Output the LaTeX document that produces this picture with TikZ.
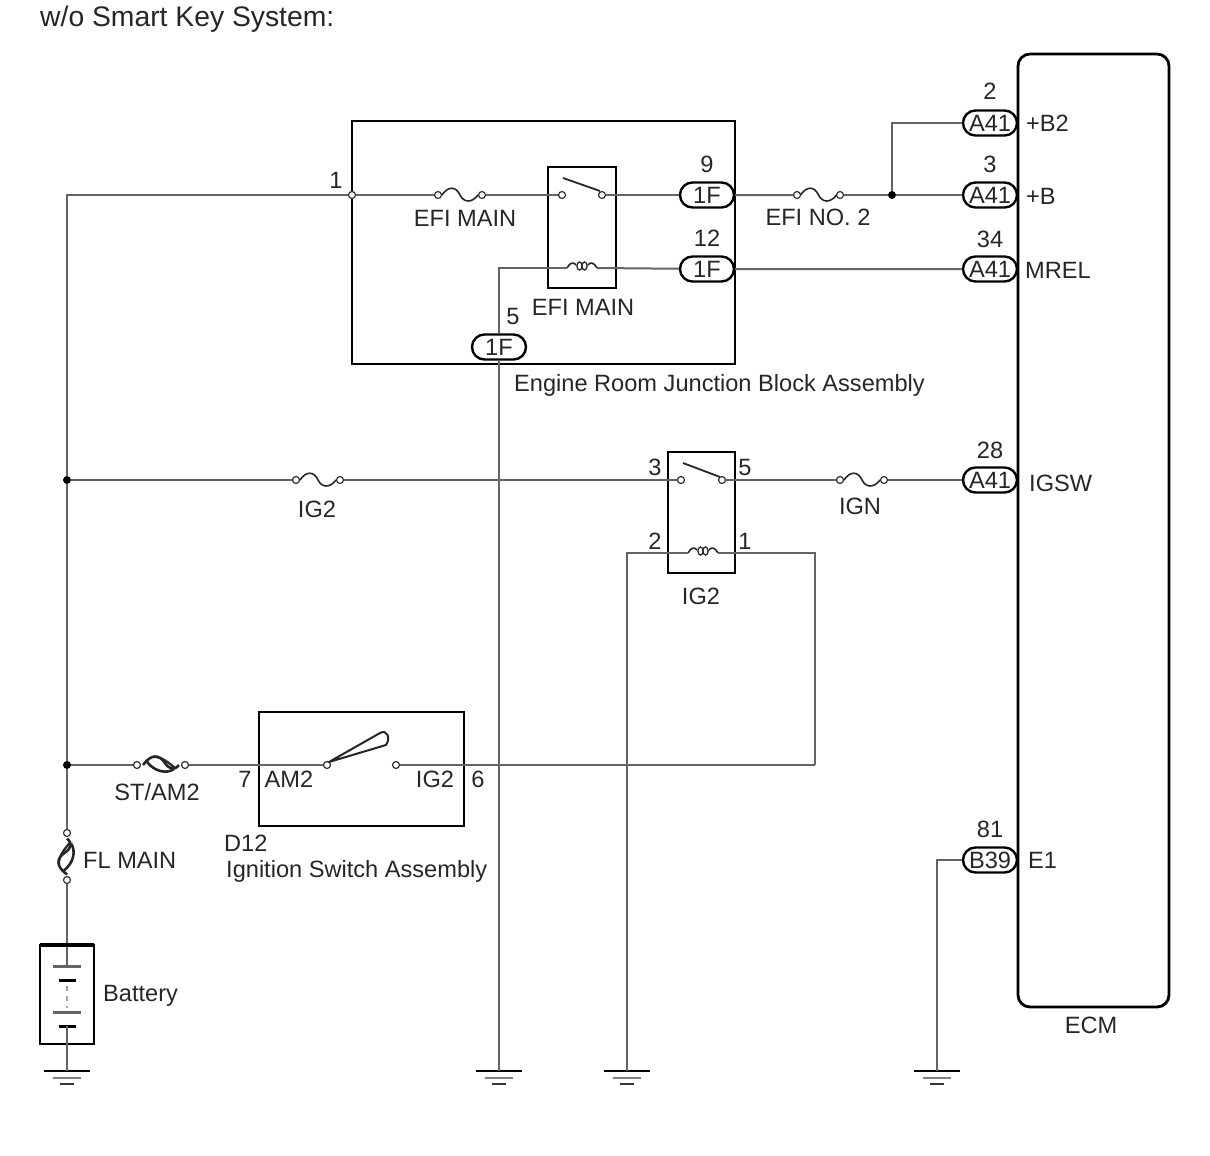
\documentclass[tikz,border=0pt]{standalone}
\usepackage{fontspec}
\setmainfont{Liberation Sans}
\usetikzlibrary{shapes.misc}
\definecolor{wirec}{RGB}{100,100,100}
\begin{document}
\begin{tikzpicture}[x=1pt,y=-1pt,
  font=\fontsize{23.6}{28}\selectfont,
  lbl/.style={inner sep=0pt,text=black!85},
  wire/.style={draw=wirec,line width=2pt},
  box/.style={draw=black,line width=2.8pt,inner sep=0pt,outer sep=0pt,anchor=north west},
  pill/.style={draw=black,line width=2.4pt,rounded rectangle,minimum width=54,minimum height=25,inner sep=0pt,fill=white,text=black!85},
  term/.style={circle,draw=black!80,fill=white,line width=1.2pt,minimum size=7,inner sep=0pt},
  dotn/.style={circle,fill=black,minimum size=8,inner sep=0pt},
  fusec/.pic={\draw[draw=black!85,line width=1.6pt] (-18,0) .. controls (-12,-9) and (-4,-9) .. (0,0) .. controls (4,8) and (12,8) .. (18,0);},
  flink/.pic={\draw[draw=black!85,line width=2.6pt] (-18,0) .. controls (-10,-11) and (-2,-11) .. (4,-2) .. controls (8,4) and (13,6) .. (18,0);
              \draw[draw=black!85,line width=2.6pt] (-14,-3) .. controls (-6,7) and (6,9) .. (13,4);
              \draw[draw=black!85,line width=2.2pt] (-8,-8) .. controls (0,-9) and (8,-2) .. (14,3);},
  coil/.pic={\draw[draw=black!85,line width=1.6pt] (-15,0) .. controls (-12,-6) and (-8,-6) .. (-6,-3);
             \draw[draw=black!85,line width=1.3pt] (-2.5,-2) ellipse (2.6 and 4) (2.5,-2) ellipse (2.6 and 4);
             \draw[draw=black!85,line width=1.6pt] (6,-3) .. controls (8,-6) and (12,-6) .. (15,0);},
  gnd/.pic={\draw[black,line width=2.4pt] (-23,0) -- (23,0);
            \draw[black!50,line width=2.2pt] (-14,7) -- (14,7);
            \draw[black!80,line width=2.2pt] (-7,13) -- (7,13);}
]
\useasboundingbox (0,0) rectangle (1210,1156);

% title
\node[lbl,anchor=west,font=\fontsize{28.3}{33}\selectfont] (title) at (40,19) {w/o Smart Key System:};

% ---------------- boxes
\node[box,minimum width=383,minimum height=243] (jb) at (352,121) {};
\node[box,line width=2.4pt,minimum width=68,minimum height=121] (r1) at (548,167) {};
\node[box,line width=2.4pt,minimum width=67,minimum height=121] (r2) at (668,452) {};
\node[box,minimum width=205,minimum height=114] (isw) at (259,712) {};
\node[box,minimum width=151,minimum height=953,rounded corners=12] (ecm) at (1018,54) {};
\node[box,minimum width=54,minimum height=99] (batt) at (40,945) {};

% ---------------- grounds
\coordinate (g1) at (67,1071);
\coordinate (g2) at (499,1071);
\coordinate (g3) at (627,1071);
\coordinate (g4) at (937,1071);
\foreach \g in {g1,g2,g3,g4} \pic at (\g) {gnd};

% ---------------- left bus
\coordinate (top) at (67,195);
\node[dotn] (d1) at (67,480) {};
\node[dotn] (d2) at (67,765) {};
\node[term] (fl1) at (67,833) {};
\node[term] (fl2) at (67,880) {};
\node[term] (t1) at (352,195) {};
\node[lbl] (n1) at (336,180) {1};
\draw[wire] (t1) -- (top) -- (d1) -- (d2) -- (fl1);
\pic[rotate=90] at (67,856.5) {flink};
\draw[wire] (fl2) -- (batt.north);
\node[lbl,anchor=west] (flmain) at (83,860) {FL MAIN};

% battery
\coordinate (bp1) at (67,966);
\coordinate (bp4) at (67,1026);
\draw[wire] (batt.north) -- (bp1);
\draw[wirec,line width=3pt] (53,966) -- (81,966);
\draw[black,line width=3pt] (59,980) -- (76,980);
\draw[wirec!60,line width=2pt,dash pattern=on 5pt off 5pt] (67,986) -- (67,1008);
\draw[wirec,line width=3pt] (53,1012) -- (81,1012);
\draw[black,line width=3pt] (59,1026) -- (76,1026);
\draw[wire] (bp4) -- (g1);
\draw[black,line width=3.2pt] (batt.north west) -- (batt.north east);
\node[lbl,anchor=west] (battl) at (103,996) {Battery};

% ---------------- junction block interior
\node[term] (f1a) at (438,195) {};
\node[term] (f1b) at (482,195) {};
\pic at (460,195) {fusec};
\node[lbl] (f1l) at (465,218) {EFI MAIN};
\node[term] (r1a) at (562,195) {};
\node[term] (r1b) at (602,195) {};
\draw[black!85,line width=1.8pt] (563,178) -- (600,191);
\node[pill] (p9) at (707,195) {1F};
\node[lbl] (n9) at (707,164) {9};
\draw[wire] (t1) -- (f1a);
\draw[wire] (f1b) -- (r1a);
\draw[wire] (r1b) -- (p9);

\coordinate (c1l) at (567,268);
\coordinate (c1r) at (597,268);
\pic at (582,268) {coil};
\node[pill] (p12) at (707,269) {1F};
\node[lbl] (n12) at (707,238) {12};
\node[pill] (p5) at (499,347) {1F};
\node[lbl] (n5) at (513,316) {5};
\coordinate (k5) at (499,268);
\draw[wire] (p5.north) -- (k5) -- (c1l);
\draw[wire] (c1r) -- (p12);
\node[lbl] (r1l) at (583,307) {EFI MAIN};
\draw[wire] (p5.south) -- (g2);
\node[lbl,anchor=west] (jbl) at (514,385) {Engine Room Junction Block Assembly};

% ---------------- EFI NO.2 and ECM +B
\node[term] (f2a) at (797,195) {};
\node[term] (f2b) at (840,195) {};
\pic at (818.5,195) {fusec};
\node[lbl] (f2l) at (818,217) {EFI NO. 2};
\node[dotn] (d3) at (892,195) {};
\node[pill] (pB2) at (990,123) {A41};
\node[pill] (pB) at (990,195) {A41};
\node[pill] (pMR) at (990,269) {A41};
\node[pill] (pIG) at (990,480) {A41};
\node[pill] (pE1) at (990,860) {B39};
\node[lbl] (nB2) at (990,91) {2};
\node[lbl] (nB) at (990,164) {3};
\node[lbl] (nMR) at (990,239) {34};
\node[lbl] (nIG) at (990,450) {28};
\node[lbl] (nE1) at (990,829) {81};
\node[lbl,anchor=west] (sB2) at (1026,123) {+B2};
\node[lbl,anchor=west] (sB) at (1026,196) {+B};
\node[lbl,anchor=west] (sMR) at (1025,270) {MREL};
\node[lbl,anchor=west] (sIG) at (1029,483) {IGSW};
\node[lbl,anchor=west] (sE1) at (1028,860) {E1};
\node[lbl] (ecml) at (1091,1025) {ECM};
\draw[wire] (p9) -- (f2a);
\draw[wire] (f2b) -- (d3) -- (pB);
\draw[wire] (d3) |- (pB2);
\draw[wire] (p12) -- (pMR);
\draw[wire] (pE1.west) -| (g4);

% ---------------- IG2 row
\node[term] (fga) at (296,480) {};
\node[term] (fgb) at (340,480) {};
\pic at (318,480) {fusec};
\node[lbl] (fgl) at (317,509) {IG2};
\node[term] (r2a) at (681,480) {};
\node[term] (r2b) at (722,480) {};
\draw[black!85,line width=1.8pt] (683,463) -- (720,477);
\node[lbl] (n3) at (655,467) {3};
\node[lbl] (n5b) at (745,467) {5};
\node[term] (fia) at (840,480) {};
\node[term] (fib) at (884,480) {};
\pic at (862,480) {fusec};
\node[lbl] (fil) at (860,506) {IGN};
\draw[wire] (d1) -- (fga);
\draw[wire] (fgb) -- (r2a);
\draw[wire] (r2b) -- (fia);
\draw[wire] (fib) -- (pIG);

\coordinate (c2l) at (688,553);
\coordinate (c2r) at (718,553);
\pic at (703,553) {coil};
\coordinate (k2) at (627,553);
\coordinate (k1) at (815,553);
\coordinate (k6) at (815,765);
\node[lbl] (n2) at (655,541) {2};
\node[lbl] (n1b) at (745,541) {1};
\node[lbl] (r2l) at (701,596) {IG2};
\draw[wire] (g3) -- (k2) -- (c2l);
\draw[wire] (c2r) -- (k1) -- (k6);

% ---------------- ignition switch
\node[term] (sta) at (137,765) {};
\node[term] (stb) at (185,765) {};
\pic at (161,765) {flink};
\node[lbl] (stl) at (157,792) {ST/AM2};
\node[term] (swa) at (327,765) {};
\node[term] (swb) at (396,765) {};
\draw[black!85,line width=2pt,line join=round] (329,762) -- (380,733) .. controls (387,729) and (391,738) .. (386,745) -- cycle;
\draw[wire] (d2) -- (sta);
\draw[wire] (stb) -- (swa);
\draw[wire] (swb) -- (k6);
\node[lbl] (n7) at (245,779) {7};
\node[lbl] (am2) at (289,779) {AM2};
\node[lbl] (ig2s) at (435,779) {IG2};
\node[lbl] (n6) at (478,779) {6};
\node[lbl,anchor=west] (d12) at (224,843) {D12};
\node[lbl,anchor=west] (iswl) at (226,871) {Ignition Switch Assembly};
\end{tikzpicture}
\end{document}
